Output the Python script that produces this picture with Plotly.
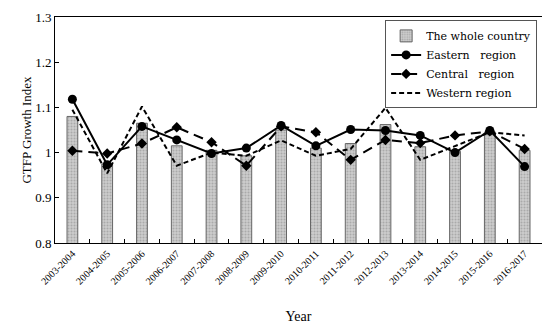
import plotly.graph_objects as go

years = ["2003-2004","2004-2005","2005-2006","2006-2007","2007-2008","2008-2009","2009-2010",
         "2010-2011","2011-2012","2012-2013","2013-2014","2014-2015","2015-2016","2016-2017"]
whole = [1.080, 0.975, 1.065, 1.015, 1.005, 0.993, 1.050, 1.010, 1.020, 1.062, 1.013, 1.003, 1.045, 1.005]
eastern = [1.118, 0.973, 1.058, 1.028, 0.998, 1.010, 1.060, 1.015, 1.051, 1.049, 1.038, 1.000, 1.049, 0.969]
central = [1.004, 0.998, 1.020, 1.056, 1.023, 0.971, 1.058, 1.045, 0.984, 1.028, 1.021, 1.038, 1.047, 1.008]
western = [1.095, 0.954, 1.102, 0.971, 1.000, 0.993, 1.027, 0.993, 1.008, 1.099, 0.984, 1.015, 1.045, 1.038]

serif = "Liberation Serif"

fig = go.Figure()
fig.add_trace(go.Bar(x=years, y=whole, name="The whole country", width=0.31,
                     marker=dict(color="#c4c4c4", line=dict(color="#666666", width=1),
                                 pattern=dict(shape=".", fgcolor="#888888", bgcolor="#cccccc", size=3, solidity=0.35))))
fig.add_trace(go.Scatter(x=years, y=eastern, name="Eastern   region", mode="lines+markers",
                         line=dict(color="black", width=2),
                         marker=dict(symbol="circle", size=9, color="black")))
fig.add_trace(go.Scatter(x=years, y=central, name="Central   region", mode="lines+markers",
                         line=dict(color="black", width=2, dash="10px,6px"),
                         marker=dict(symbol="diamond", size=8, color="black")))
fig.add_trace(go.Scatter(x=years, y=western, name="Western region", mode="lines",
                         line=dict(color="black", width=2, dash="5px,3px")))

# page body has an 8px default margin, so the figure is sized to fit the window
fig.update_layout(
    width=542, height=323,
    margin=dict(l=47, r=8, t=9, b=88, autoexpand=False),
    paper_bgcolor="white", plot_bgcolor="white",
    font=dict(family=serif, color="black", size=12),
    showlegend=True,
    legend=dict(x=0.99, y=0.985, xanchor="right", yanchor="top",
                bordercolor="#555555", borderwidth=1, bgcolor="white",
                font=dict(family="DejaVu Serif", size=11), tracegroupgap=0, itemwidth=30),
    xaxis=dict(type="category", range=[-0.5, 13.5], tickangle=-45, tickfont=dict(family=serif, size=10),
               ticks="inside", tickson="boundaries", ticklen=4, tickcolor="black",
               showline=True, linecolor="black", linewidth=1, mirror=True, showgrid=False,
               automargin=False,
               title=dict(text="Year", font=dict(family=serif, size=14), standoff=25)),
    yaxis=dict(range=[0.8, 1.3], tickvals=[0.8, 0.9, 1.0, 1.1, 1.2, 1.3],
               ticktext=["0.8", "0.9", "1", "1.1", "1.2", "1.3"],
               ticks="inside", ticklen=4, tickcolor="black",
               tickfont=dict(family=serif, size=13),
               showline=True, linecolor="black", linewidth=1, mirror=True, showgrid=False,
               zeroline=False, automargin=False,
               title=dict(text="GTFP Growth Index", font=dict(family=serif, size=13), standoff=0)),
)

fig.write_html("out.html")
